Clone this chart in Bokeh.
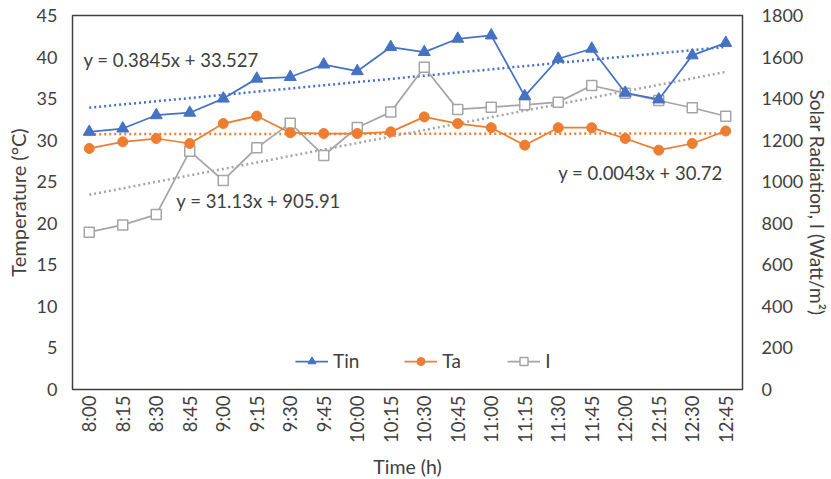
import numpy as np
from bokeh.plotting import figure
from bokeh.models import (FactorRange, Range1d, LinearAxis, FixedTicker, Legend,
                          LegendItem, Label)
from bokeh.embed import file_html
from bokeh.resources import INLINE

# ---- data ----
times = ["8:00", "8:15", "8:30", "8:45", "9:00", "9:15", "9:30", "9:45", "10:00",
         "10:15", "10:30", "10:45", "11:00", "11:15", "11:30", "11:45", "12:00",
         "12:15", "12:30", "12:45"]
tin = [31.0, 31.4, 33.0, 33.3, 35.0, 37.4, 37.6, 39.1, 38.3, 41.2, 40.6, 42.2,
       42.6, 35.3, 39.8, 41.0, 35.7, 34.9, 40.2, 41.7]
ta = [29.0, 29.8, 30.2, 29.6, 32.0, 32.9, 30.9, 30.8, 30.8, 31.0, 32.8, 32.0,
      31.5, 29.4, 31.5, 31.5, 30.2, 28.8, 29.6, 31.1]
irr = [757, 792, 842, 1147, 1006, 1163, 1282, 1126, 1261, 1335, 1551, 1348,
       1359, 1370, 1383, 1463, 1426, 1391, 1356, 1315]
# trendline coefficients (slope, intercept) shown on chart
tin_fit = (0.3845, 33.527)
ta_fit = (0.0043, 30.72)
irr_fit = (31.13, 905.91)
left_ticks = list(range(0, 50, 5))
right_ticks = list(range(0, 2000, 200))

FONT = "Lato"
TXT = "#404040"
BLUE = "#4472C4"
ORANGE = "#ED7D31"
GRAY = "#A5A5A5"

p = figure(frame_width=670, frame_height=374,
           x_range=FactorRange(factors=times, range_padding=0),
           y_range=Range1d(0, 45), output_backend="svg", toolbar_location=None,
           min_border_left=72, min_border_right=89, min_border_top=15, min_border_bottom=90)
p.extra_y_ranges = {"I": Range1d(0, 1800)}
p.xgrid.grid_line_color = None
p.ygrid.grid_line_color = None
p.outline_line_color = "#404040"
p.outline_line_width = 1.5
p.background_fill_color = "white"

xs = np.arange(1, len(times) + 1)

# trendlines
r_tf = p.line(times, [tin_fit[0] * x + tin_fit[1] for x in xs], line_color=BLUE,
              line_width=2.5, line_dash="2 3")
r_af = p.line(times, [ta_fit[0] * x + ta_fit[1] for x in xs], line_color=ORANGE,
              line_width=2.5, line_dash="2 3")
r_if = p.line(times, [irr_fit[0] * x + irr_fit[1] for x in xs], line_color=GRAY,
              line_width=2.5, line_dash="2 3", y_range_name="I")

# series
l_i = p.line(times, irr, line_color=GRAY, line_width=1.75, y_range_name="I")
m_i = p.scatter(times, irr, marker="square", size=10, fill_color="white",
                line_color=GRAY, line_width=1.5, y_range_name="I")
l_a = p.line(times, ta, line_color=ORANGE, line_width=1.75)
m_a = p.scatter(times, ta, marker="circle", size=10, fill_color=ORANGE, line_color=ORANGE)
l_t = p.line(times, tin, line_color=BLUE, line_width=1.75)
m_t = p.scatter(times, tin, marker="triangle", size=12, fill_color=BLUE, line_color=BLUE)

# axes
p.yaxis.ticker = FixedTicker(ticks=left_ticks)
p.yaxis.axis_label = "Temperature (°C)"
ry = LinearAxis(y_range_name="I", ticker=FixedTicker(ticks=right_ticks),
                axis_label="Solar Radiation, I (Watt/m²)")
p.add_layout(ry, "right")
p.xaxis.axis_label = "Time (h)"
p.xaxis.major_label_orientation = np.pi / 2

for ax in [p.xaxis[0], p.yaxis[0], ry]:
    ax.axis_line_color = None
    ax.major_tick_line_color = None
    ax.minor_tick_line_color = None
    ax.major_tick_out = 0
    ax.major_tick_in = 0
    ax.major_label_text_font = FONT
    ax.major_label_text_font_size = "18px"
    ax.major_label_text_color = TXT
    ax.axis_label_text_font = FONT
    ax.axis_label_text_font_size = "20px"
    ax.axis_label_text_font_style = "normal"
    ax.axis_label_text_color = TXT
ry.axis_label_text_font_size = "19px"
p.xaxis[0].major_label_text_font_size = "18.5px"
p.xaxis[0].axis_label_text_font_size = "19.5px"
p.yaxis[0].major_label_standoff = 15
p.yaxis[0].axis_label_standoff = 4
ry.major_label_standoff = 19
ry.axis_label_standoff = 0
p.xaxis[0].major_label_standoff = 6
p.xaxis[0].axis_label_standoff = 9

# trend labels
for txt, x, y in [("y = 0.3845x + 33.527", 0.33, 39.6),
                  ("y = 31.13x + 905.91", 3.1, 22.7),
                  ("y = 0.0043x + 30.72", 14.5, 26.1)]:
    p.add_layout(Label(x=x, y=y, text=txt, text_font=FONT, text_font_size="18.5px",
                       text_color=TXT, text_baseline="middle", text_align="left"))

legend = Legend(items=[LegendItem(label="Tin", renderers=[l_t, m_t]),
                       LegendItem(label="Ta", renderers=[l_a, m_a]),
                       LegendItem(label="I", renderers=[l_i, m_i])],
                orientation="horizontal", location=(223, 17), glyph_width=33,
                label_standoff=5, spacing=45, padding=5, border_line_color=None,
                background_fill_alpha=0, label_text_font=FONT,
                label_text_font_size="19px", label_text_color=TXT)
p.add_layout(legend)

open("out.html", "w").write(file_html(p, INLINE))
